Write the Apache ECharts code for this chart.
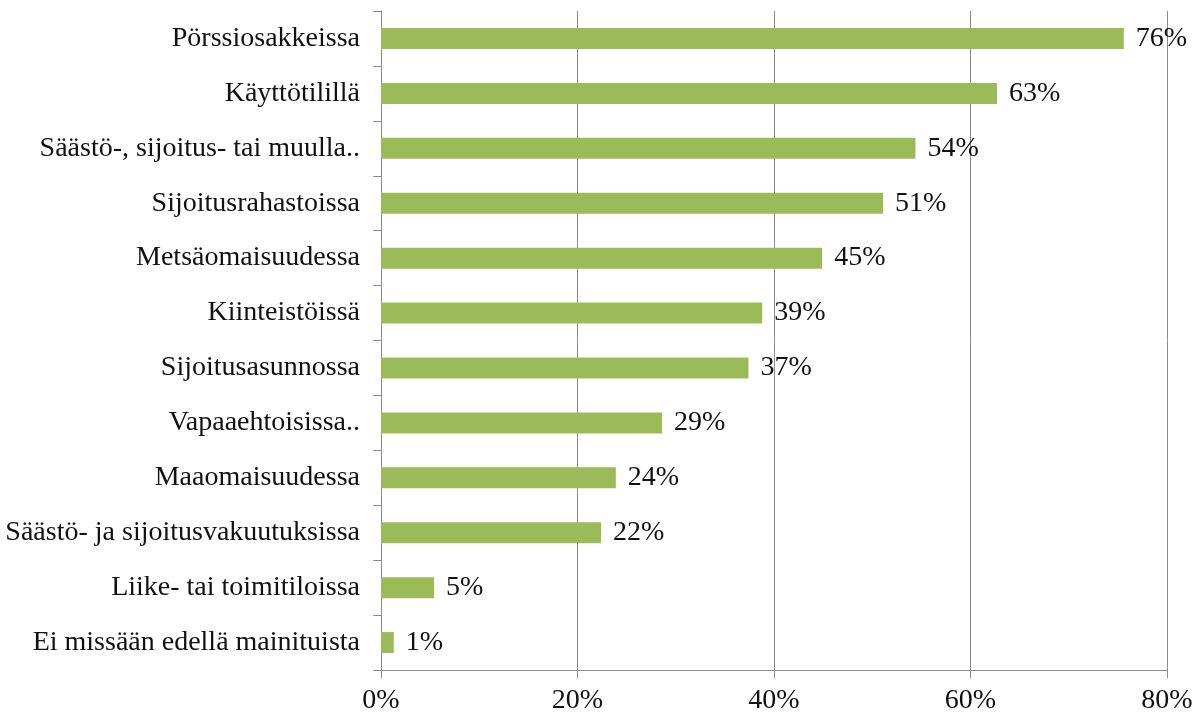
<!DOCTYPE html>
<html>
<head>
<meta charset="utf-8">
<script src="https://cdn.jsdelivr.net/npm/echarts@6/dist/echarts.min.js"></script>
<style>html,body{margin:0;padding:0;background:#fff}#c{width:1199px;height:715px}</style>
</head>
<body>
<div id="c"></div>
<script>
const categories = [
  "Pörssiosakkeissa",
  "Käyttötilillä",
  "Säästö-, sijoitus- tai muulla..",
  "Sijoitusrahastoissa",
  "Metsäomaisuudessa",
  "Kiinteistöissä",
  "Sijoitusasunnossa",
  "Vapaaehtoisissa..",
  "Maaomaisuudessa",
  "Säästö- ja sijoitusvakuutuksissa",
  "Liike- tai toimitiloissa",
  "Ei missään edellä mainituista"
];
const values = [75.6, 62.7, 54.4, 51.1, 44.9, 38.8, 37.4, 28.6, 23.9, 22.4, 5.4, 1.3];
const xTicks = [0, 20, 40, 60, 80];

const chart = echarts.init(document.getElementById('c'), null, {renderer: 'canvas'});
const font = '"Liberation Serif", "Times New Roman", serif';
chart.setOption({
  animation: false,
  textStyle: {fontFamily: font},
  grid: {left: 381, right: 32, top: 11, bottom: 45, containLabel: false},
  xAxis: {
    type: 'value', min: xTicks[0], max: xTicks[xTicks.length - 1], interval: 20,
    axisLine: {show: true, lineStyle: {color: '#8c8c8c', width: 1}},
    axisTick: {show: true, length: 8, lineStyle: {color: '#8c8c8c'}},
    splitLine: {show: true, lineStyle: {color: '#8c8c8c', width: 1}},
    axisLabel: {formatter: v => v + '%', fontFamily: font, fontSize: 28, color: '#111', margin: 17}
  },
  yAxis: {
    type: 'category', data: categories, inverse: true,
    axisLine: {show: true, lineStyle: {color: '#8c8c8c', width: 1}},
    axisTick: {show: true, length: 8, lineStyle: {color: '#8c8c8c'}},
    axisLabel: {fontFamily: font, fontSize: 28, color: '#111', margin: 21}
  },
  series: [{
    type: 'bar', data: values, barWidth: 21,
    itemStyle: {color: '#9bbb59'},
    label: {show: true, position: 'right', distance: 12, fontFamily: font, fontSize: 28, color: '#111',
      formatter: p => Math.round(p.value) + '%'}
  }]
});
</script>
</body>
</html>
